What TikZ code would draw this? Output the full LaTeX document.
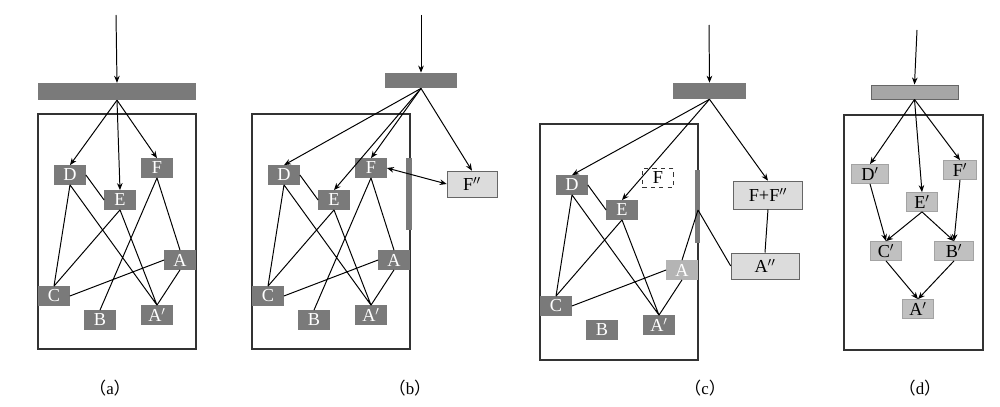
\documentclass[tikz,border=0pt]{standalone}
\usepackage{fontspec}
\setmainfont{Liberation Serif}
\newfontfamily\cjk{Noto Sans CJK SC}
\usetikzlibrary{arrows.meta}
\definecolor{dk}{HTML}{7A7A7A}
\definecolor{md}{HTML}{B4B4B4}
\definecolor{lt}{HTML}{DCDCDC}
\definecolor{dl}{HTML}{C0C0C0}
\begin{document}
\begin{tikzpicture}[x=0.025cm,y=-0.025cm,
  n/.style={draw=none,fill=dk,text=white,inner sep=0,minimum width=0.78cm,minimum height=0.48cm,font=\fontsize{13}{14}\selectfont},
  nl/.style={n,fill=dl,text=black,draw=dl!85!black},
  big/.style={draw=gray!80!black,fill=lt,inner sep=0,font=\fontsize{13}{14}\selectfont},
  bar/.style={fill=dk,inner sep=0},
  box/.style={draw=black!80,line width=0.8pt},
  ar/.style={-{Stealth[length=5pt,width=4pt]},line width=0.7pt},
  ln/.style={line width=0.7pt},
  lab/.style={font=\fontsize{12}{13}\selectfont}]
\useasboundingbox (0,0) rectangle (1000,407);
% ---------- (a)
\draw[box] (38,114) rectangle (196,349);
\node[bar,minimum width=3.95cm,minimum height=0.42cm] (barA) at (117,91.5) {};
\coordinate (ta) at (116,15);
\draw[ar] (ta) -- (barA.north);
\node[n] (aD) at (70,175) {D};
\node[n] (aE) at (120,200) {E};
\node[n] (aF) at (157,168) {F};
\node[n] (aA) at (180,260) {A};
\node[n] (aC) at (54,296) {C};
\node[n] (aB) at (100,320) {B};
\node[n] (aA2) at (157,315) {A$'$};
\draw[ar] (barA.south) -- (aD.north);
\draw[ar] (barA.south) -- (aE.north);
\draw[ar] (barA.south) -- (aF.north);
\draw[ln] (aD.east) -- (aE.west) (aD.south) -- (aC.north) (aD.south) -- (aA2.north)
  (aE.south) -- (aC.north) (aE.south) -- (aA2.north) (aF.south) -- (aB.north)
  (aF.south) -- (aA.north) (aA.west) -- (aC.east) (aA.south) -- (aA2.north);
\node[lab] (la) at (110,388) {{\cjk （}a{\cjk ）}};
% ---------- (b)
\draw[box] (252,114) rectangle (410,349);
\node[bar,minimum width=1.82cm,minimum height=0.38cm] (barB) at (421,80.5) {};
\coordinate (tb) at (421,15);
\draw[ar] (tb) -- (barB.north);
\node[n] (bD) at (284,175) {D};
\node[n] (bE) at (334,200) {E};
\node[n] (bF) at (371,168) {F};
\node[n] (bA) at (394,260) {A};
\node[n] (bC) at (268,296) {C};
\node[n] (bB) at (314,320) {B};
\node[n] (bA2) at (371,315) {A$'$};
\node[big,minimum width=1.25cm,minimum height=0.65cm] (bF2) at (472,184) {F$''$};
\node[bar,minimum width=0.15cm,minimum height=1.8cm] (gb) at (409,194) {};
\draw[ar] (barB.south) -- (bD.north);
\draw[ar] (barB.south) -- (bE.north);
\draw[ar] (barB.south) -- (bF.north);
\draw[ar] (barB.south) -- (bF2.north);
\draw[{Stealth[length=5pt,width=4pt]}-{Stealth[length=5pt,width=4pt]},line width=0.7pt] (bF.east) -- (bF2.west);
\draw[ln] (bD.east) -- (bE.west) (bD.south) -- (bC.north) (bD.south) -- (bA2.north)
  (bE.south) -- (bC.north) (bE.south) -- (bA2.north) (bF.south) -- (bB.north)
  (bF.south) -- (bA.north) (bA.west) -- (bC.east) (bA.south) -- (bA2.north);
\node[lab] (lb) at (410,388) {{\cjk （}b{\cjk ）}};
% ---------- (c)
\draw[box] (540,124) rectangle (698,360);
\node[bar,minimum width=1.82cm,minimum height=0.4cm] (barC) at (709.5,91) {};
\coordinate (tc) at (709,25);
\draw[ar] (tc) -- (barC.north);
\node[n] (cD) at (572,185) {D};
\node[n] (cE) at (622,210) {E};
\node[n,fill=none,text=black,draw=black!80,dashed] (cF) at (658,178) {F};
\node[n,fill=md] (cA) at (682,270) {A};
\node[n] (cC) at (556,306) {C};
\node[n] (cB) at (602,330) {B};
\node[n] (cA2) at (659,325) {A$'$};
\node[big,minimum width=1.72cm,minimum height=0.7cm] (cFF) at (768,195) {F+F$''$};
\node[big,minimum width=1.7cm,minimum height=0.66cm] (cA3) at (765,266) {A$''$};
\node[bar,minimum width=0.13cm,minimum height=1.82cm] (gc) at (697.5,206.5) {};
\draw[ar] (barC.south) -- (cD.north);
\draw[ar] (barC.south) -- (cE.north);
\draw[ar] (barC.south) -- (cFF.north);
\draw[ln] (cFF.south) -- (cA3.north);
\coordinate (gcm) at (698,210);
\draw[ln] (gcm) -- (cA.north) (gcm) -- (cA3.west);
\draw[ln] (cD.east) -- (cE.west) (cD.south) -- (cC.north) (cD.south) -- (cA2.north)
  (cE.south) -- (cC.north) (cE.south) -- (cA2.north)
  (cA.west) -- (cC.east) (cA.south) -- (cA2.north);
\node[lab] (lc) at (705,388) {{\cjk （}c{\cjk ）}};
% ---------- (d)
\draw[box] (844,115) rectangle (983,350);
\node[bar,fill=gray!70,draw=gray!80!black,minimum width=2.17cm,minimum height=0.36cm] (barD) at (914.5,92) {};
\coordinate (td) at (917,30);
\draw[ar] (td) -- (barD.north);
\node[nl,minimum width=0.92cm] (dD) at (870,174) {D$'$};
\node[nl,minimum width=0.82cm] (dF) at (960,170) {F$'$};
\node[nl] (dE) at (922,202) {E$'$};
\node[nl] (dC) at (886,251) {C$'$};
\node[nl,minimum width=0.97cm] (dB) at (954,251) {B$'$};
\node[nl] (dA) at (918,309) {A$'$};
\draw[ar] (barD.south) -- (dD.north);
\draw[ar] (barD.south) -- (dE.north);
\draw[ar] (barD.south) -- (dF.north);
\draw[ar] (dD.south) -- (dC.north);
\draw[ar] (dE.south) -- (dC.north);
\draw[ar] (dE.south) -- (dB.north);
\draw[ar] (dF.south) -- (dB.north);
\draw[ar] (dC.south) -- (dA.north);
\draw[ar] (dB.south) -- (dA.north);
\node[lab] (ld) at (920,388) {{\cjk （}d{\cjk ）}};
\end{tikzpicture}
\end{document}
